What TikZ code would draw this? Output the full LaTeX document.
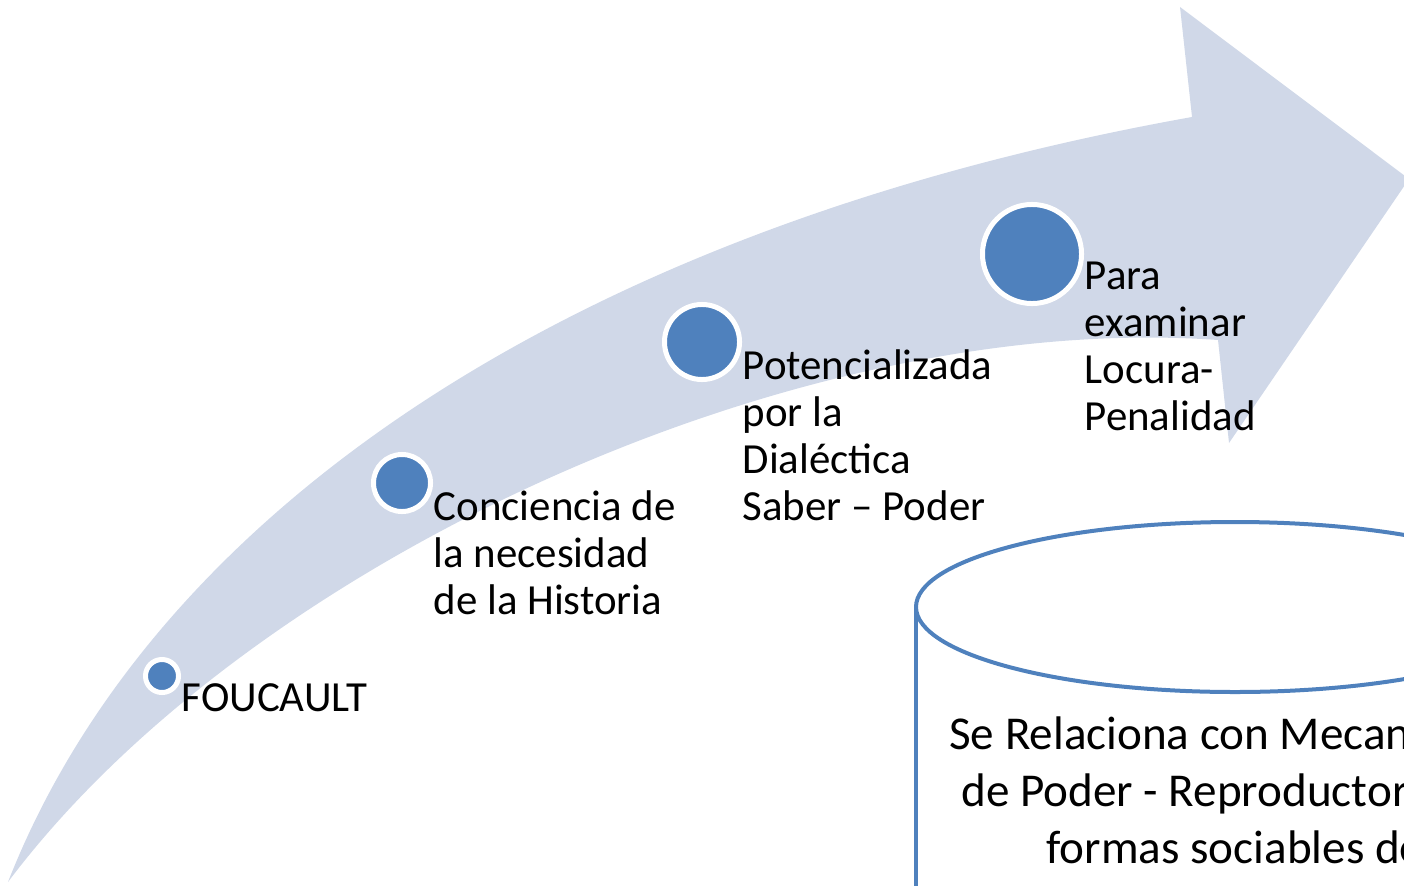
\documentclass[tikz,border=0pt]{standalone}
\usepackage{fontspec}
\setmainfont{Carlito}
\usepackage{tikz}
\usetikzlibrary{positioning, calc}
\definecolor{cArrow}{RGB}{208,216,232}
\definecolor{cBlue}{RGB}{79,129,189}
\tikzset{
	bigarrow/.style={fill=cArrow, draw=none},
	stepdot/.style={circle, draw=white, line width=0.05cm, fill=cBlue, inner sep=0pt},
	steptext/.style={anchor=north west, align=left, inner sep=0pt, font=\fontsize{12.2}{13.4}\selectfont},
	cylline/.style={draw=cBlue, line width=0.04cm},
	cyltext/.style={anchor=north, align=center, inner sep=0pt, font=\fontsize{13.4}{16.2}\selectfont},
}
\begin{document}
\begin{tikzpicture}[x=0.01cm, y=-0.01cm]
	\useasboundingbox (0,0) rectangle (1404,885);
	\clip (0,0) rectangle (1404,885);
	% ascending arrow
	\fill[bigarrow] (8,882) .. controls (150,520) and (560,230) .. (1192,117)
		-- (1180,7) -- (1409,179) -- (1229,443) -- (1218,340)
		.. controls (800,310) and (250,560) .. (8,882) -- cycle;
	% steps on the arrow
	\node[stepdot, minimum size=0.33cm] (d1) at (162,676) {};
	\node[stepdot, minimum size=0.57cm] (d2) at (402,483) {};
	\node[stepdot, minimum size=0.75cm] (d3) at (702,342) {};
	\node[stepdot, minimum size=0.99cm] (d4) at (1032,254) {};
	\node[steptext] (t1) at ([yshift=-0.7mm]d1.east) {FOUCAULT};
	\node[steptext] (t2) at ([yshift=-0.7mm]d2.east) {Conciencia de\\la necesidad\\de la Historia};
	\node[steptext] (t3) at ([yshift=-0.7mm]d3.east) {Potencializada\\por la\\Dialéctica\\Saber – Poder};
	\node[steptext] (t4) at ([yshift=-0.7mm]d4.east) {Para\\examinar\\Locura-\\Penalidad};
	% cylinder
	\draw[cylline] (1235,607) ellipse [x radius=319, y radius=85];
	\draw[cylline] (916,607) -- (916,900);
	\draw[cylline] (1554,607) -- (1554,900);
	\node[cyltext] (rel) at (1235,716) {Se Relaciona con Mecanismos\\de Poder - Reproductores de\\formas sociables de};
\end{tikzpicture}
\end{document}
